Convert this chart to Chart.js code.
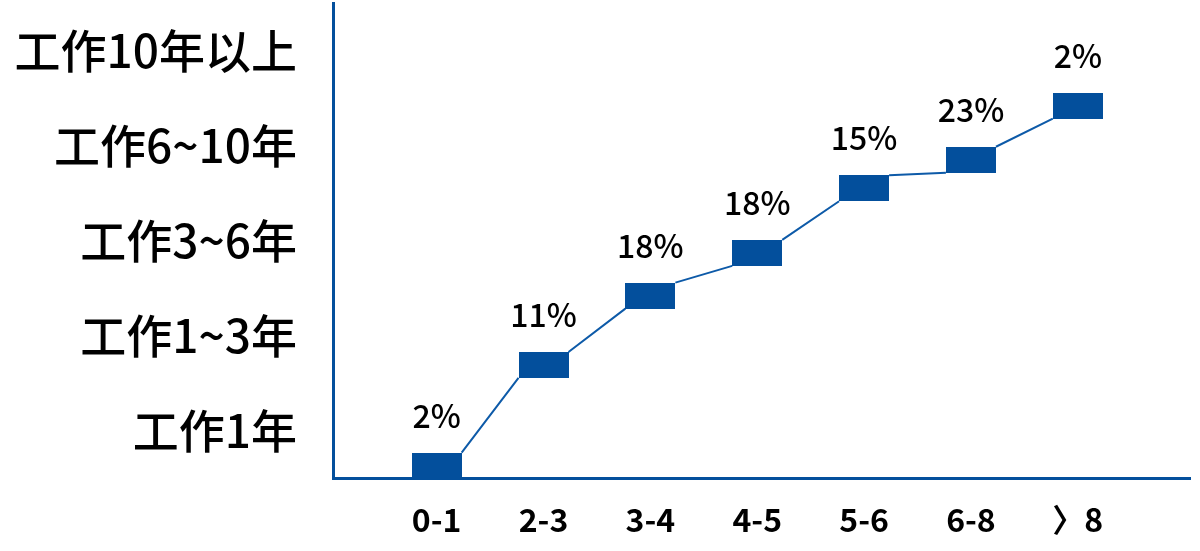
<!DOCTYPE html>
<html>
<head>
<meta charset="utf-8">
<script src="https://cdn.jsdelivr.net/npm/chart.js@4.4.1/dist/chart.umd.min.js"></script>
<style>
  html, body { margin: 0; padding: 0; background: #fff; }
  #wrap { width: 1200px; height: 551px; }
</style>
</head>
<body>
<div id="wrap"><canvas id="chart"></canvas></div>
<script>
// ==================== DATA ====================
const categories = ['0-1', '2-3', '3-4', '4-5', '5-6', '6-8', '〉8'];
const levels = [0.63, 1.69, 2.42, 2.87, 3.55, 3.85, 4.42];
const shares = ['2%', '11%', '18%', '18%', '15%', '23%', '2%'];
const yTickValues = [1, 2, 3, 4, 5];
const yTickLabels = ['工作1年', '工作1~3年', '工作3~6年', '工作6~10年', '工作10年以上'];

// ==================== STYLE ====================
const BLUE = '#034f9c';
const LINE_BLUE = '#0d5aa8';
const BOX_W = 50;
const BOX_H = 26;
const FONT = '"Noto Sans CJK SC", "Noto Sans", sans-serif';

// box marker as an image
const box = document.createElement('canvas');
box.width = BOX_W;
box.height = BOX_H;
const bctx = box.getContext('2d');
bctx.fillStyle = BLUE;
bctx.fillRect(0, 0, BOX_W, BOX_H);

// line goes from top-right of one box to bottom-left of the next
const stepLine = {
    id: 'stepLine',
    beforeDatasetsDraw(chart) {
        const pts = chart.getDatasetMeta(0).data;
        const ctx = chart.ctx;
        ctx.save();
        ctx.strokeStyle = LINE_BLUE;
        ctx.lineWidth = 2;
        ctx.beginPath();
        for (let i = 0; i < pts.length - 1; i++) {
            ctx.moveTo(pts[i].x + BOX_W / 2, pts[i].y - BOX_H / 2);
            ctx.lineTo(pts[i + 1].x - BOX_W / 2, pts[i + 1].y + BOX_H / 2);
        }
        ctx.stroke();
        ctx.restore();
    }
};

// percent labels above the boxes
const shareLabels = {
    id: 'shareLabels',
    afterDatasetsDraw(chart) {
        const pts = chart.getDatasetMeta(0).data;
        const ctx = chart.ctx;
        ctx.save();
        ctx.fillStyle = '#000';
        ctx.font = '500 32px ' + FONT;
        ctx.textAlign = 'center';
        ctx.textBaseline = 'middle';
        pts.forEach((p, i) => ctx.fillText(shares[i], p.x, p.y - 50));
        ctx.restore();
    }
};

new Chart(document.getElementById('chart'), {
    type: 'line',
    data: {
        datasets: [{
            data: levels.map((v, i) => ({ x: i, y: v })),
            showLine: false,
            pointStyle: box,
            pointRadius: 13,
            pointHoverRadius: 13,
            clip: false
        }]
    },
    options: {
        responsive: true,
        maintainAspectRatio: false,
        animation: false,
        events: [],
        layout: { autoPadding: false, padding: { top: 3, right: 10, left: 0, bottom: 0 } },
        plugins: { legend: { display: false }, tooltip: { enabled: false } },
        scales: {
            x: {
                type: 'linear',
                min: -0.97,
                max: 7.05,
                afterBuildTicks: axis => { axis.ticks = categories.map((c, i) => ({ value: i })); },
                afterFit: axis => { axis.height = 73; axis.paddingLeft = 0; axis.paddingRight = 0; },
                grid: { display: false, drawTicks: false },
                border: { display: true, color: BLUE, width: 3 },
                ticks: {
                    color: '#000',
                    padding: 23,
                    autoSkip: false,
                    maxRotation: 0,
                    font: { family: FONT, size: 32, weight: 'bold' },
                    callback: v => categories[v] ?? ''
                }
            },
            y: {
                type: 'linear',
                min: 0.5,
                max: 5.5,
                afterBuildTicks: axis => { axis.ticks = yTickValues.map(v => ({ value: v })); },
                afterFit: axis => { axis.width = 333; axis.paddingTop = 0; axis.paddingBottom = 0; },
                grid: { display: false, drawTicks: false },
                border: { display: true, color: BLUE, width: 3 },
                ticks: {
                    color: '#000',
                    padding: 36,
                    autoSkip: false,
                    font: { family: FONT, size: 46, weight: '500' },
                    callback: v => yTickLabels[yTickValues.indexOf(v)] ?? ''
                }
            }
        }
    },
    plugins: [stepLine, shareLabels]
});
</script>
</body>
</html>
